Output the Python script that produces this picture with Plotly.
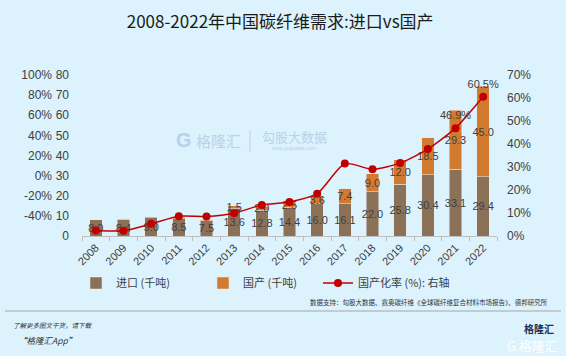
import plotly.graph_objects as go

years = [str(y) for y in range(2008, 2023)]
imports = [8.0, 8.4, 9.0, 8.5, 7.5, 13.6, 12.8, 14.4, 16.0, 16.1, 22.0, 25.8, 30.4, 33.1, 29.4]
domestic = [0.2, 0.2, 0.5, 0.8, 0.7, 1.5, 2.0, 2.5, 3.6, 7.4, 9.0, 12.0, 18.5, 29.3, 45.0]
domestic_labels = ["", "", "", "", "", "1.5", "2.0", "2.5", "3.6", "7.4", "9.0", "12.0", "18.5", "29.3", "45.0"]
rate = [2.4, 2.3, 5.3, 8.6, 8.5, 9.9, 13.5, 14.8, 18.4, 31.5, 29.0, 31.7, 37.8, 46.9, 60.5]
rate_labels = [""] * 13 + ["46.9%", "60.5%"]
pct_ticks = [-40, -20, 0, 20, 40, 60, 80, 100]

BG = "#dcf2fd"
TXT = "#404040"
FONT = "Liberation Sans, Arial, sans-serif"
CJK = "Noto Sans CJK SC, sans-serif"

L, R = 54, 69
W = 566
plot_w = W - L - R
d0 = (82 - L) / plot_w

fig = go.Figure()
fig.add_trace(go.Bar(
    x=years, y=imports, name="进口 (千吨)", marker_color="#8b7158",
    width=0.45, text=[f"{v:.1f}" for v in imports], textposition="inside",
    insidetextanchor="middle", textangle=0, constraintext="none",
    textfont=dict(family=FONT, size=11, color=TXT), cliponaxis=False,
))
fig.add_trace(go.Bar(
    x=years, y=domestic, name="国产 (千吨)", marker_color="#d27b30",
    width=0.45, text=domestic_labels, textposition="inside",
    insidetextanchor="middle", textangle=0, constraintext="none",
    textfont=dict(family=FONT, size=11, color=TXT), cliponaxis=False,
))
fig.add_trace(go.Scatter(
    x=years, y=rate, name="国产化率 (%): 右轴", yaxis="y2", legend="legend2",
    mode="lines+markers+text", line=dict(color="#c00000", width=1.5, shape="spline", smoothing=0.6),
    marker=dict(color="#c00000", size=8), text=rate_labels, textposition="top center",
    textfont=dict(family=FONT, size=11, color=TXT), cliponaxis=False,
))
fig.add_trace(go.Scatter(x=years, y=[None] * len(years), yaxis="y3", showlegend=False,
                         hoverinfo="skip", mode="lines"))

legend_y = (236 - 283) / 161
fig.update_layout(
    width=W, height=356,
    margin=dict(l=L, r=R, t=75, b=120, autoexpand=False),
    paper_bgcolor=BG, plot_bgcolor=BG,
    barmode="stack", bargap=0.5,
    showlegend=True,
    title=dict(text="2008-2022年中国碳纤维需求:进口vs国产", x=0.495, xref="container", xanchor="center",
               y=1 - 22 / 356, yref="container", yanchor="middle",
               font=dict(family=CJK, size=17, color="#1a1a1a")),
    xaxis=dict(domain=[d0, 1], type="category", range=[-0.5, len(years) - 0.5], tickangle=-45,
               ticks="outside", tickson="boundaries",
               ticklen=4, tickcolor="#bfbfbf", showline=True, linecolor="#bfbfbf", linewidth=1,
               showgrid=False, automargin=False, tickfont=dict(family=FONT, size=11, color=TXT)),
    yaxis=dict(range=[0, 80], dtick=10, showgrid=False, zeroline=False, showline=False, automargin=False,
               ticklabelstandoff=12, tickfont=dict(family=FONT, size=12, color=TXT)),
    yaxis2=dict(range=[0, 70], dtick=10, ticksuffix="%", overlaying="y", side="right",
                showgrid=False, zeroline=False, showline=False, automargin=False,
                ticklabelstandoff=9, tickfont=dict(family=FONT, size=12, color=TXT)),
    yaxis3=dict(range=[-60, 100], tickvals=pct_ticks, ticktext=[f"{v}%" for v in pct_ticks],
                overlaying="y", side="left", anchor="free", position=0, automargin=False,
                showgrid=False, zeroline=False, showline=False,
                ticklabelstandoff=2, tickfont=dict(family=FONT, size=12, color=TXT)),
    legend=dict(orientation="h", x=(76 - L) / plot_w, xanchor="left", y=legend_y, yanchor="middle",
                font=dict(family=CJK, size=11, color=TXT), bgcolor="rgba(0,0,0,0)",
                entrywidth=82, entrywidthmode="pixels", traceorder="normal"),
    legend2=dict(orientation="h", x=(318 - L) / plot_w, xanchor="left", y=legend_y, yanchor="middle",
                 font=dict(family=CJK, size=11, color=TXT), bgcolor="rgba(0,0,0,0)"),
)

anns = [
    dict(text="格隆汇", x=218, y=140, font=dict(family=CJK, size=15, color="#b8d2ea")),
    dict(text="<b>G</b>", x=184, y=140, font=dict(family=FONT, size=20, color="#b8d2ea")),
    dict(text="勾股大数据", x=294, y=136, font=dict(family=CJK, size=13, color="#b8d2ea")),
    dict(text="www.gogudata.com", x=294, y=148, font=dict(family=FONT, size=5, color="#b8d2ea")),
    dict(text="数据支持：勾股大数据、赛奥碳纤维《全球碳纤维复合材料市场报告》、德邦研究所",
         x=550, y=302, xanchor="right", font=dict(family=CJK, size=6.5, color="#333333")),
    dict(text="<i>了解更多图文干货，请下载</i>", x=11, y=325, xanchor="left",
         font=dict(family=CJK, size=6.5, color="#333333")),
    dict(text="<i>“格隆汇App”</i>", x=16, y=340, xanchor="left",
         font=dict(family=CJK, size=8.5, color="#333333")),
    dict(text="<b>格隆汇</b>", x=556, y=328, xanchor="right",
         font=dict(family=CJK, size=10, color="#1e2d4f")),
    dict(text="G 格隆汇", x=560, y=345, xanchor="right",
         font=dict(family=CJK, size=13, color="#ffffff")),
]
for a in anns:
    a.update(xref="paper", yref="paper", showarrow=False)
    px, py = a["x"], a["y"]
    a["x"] = (px - L) / plot_w
    a["y"] = (236 - py) / 161
    a.setdefault("xanchor", "center")
    a["yanchor"] = "middle"
    fig.add_annotation(**a)

fig.add_shape(type="line", xref="paper", yref="paper",
              x0=(5 - L) / plot_w, x1=(561 - L) / plot_w,
              y0=(236 - 311) / 161, y1=(236 - 311) / 161,
              line=dict(color="#a6a6a6", width=1))
fig.add_shape(type="line", xref="paper", yref="paper",
              x0=(250 - L) / plot_w, x1=(250 - L) / plot_w,
              y0=(236 - 130) / 161, y1=(236 - 152) / 161,
              line=dict(color="#b8d2ea", width=1))

fig.write_html("out.html", config={"displayModeBar": False},
               post_script="document.body.style.margin='0';document.body.style.overflow='hidden';")
